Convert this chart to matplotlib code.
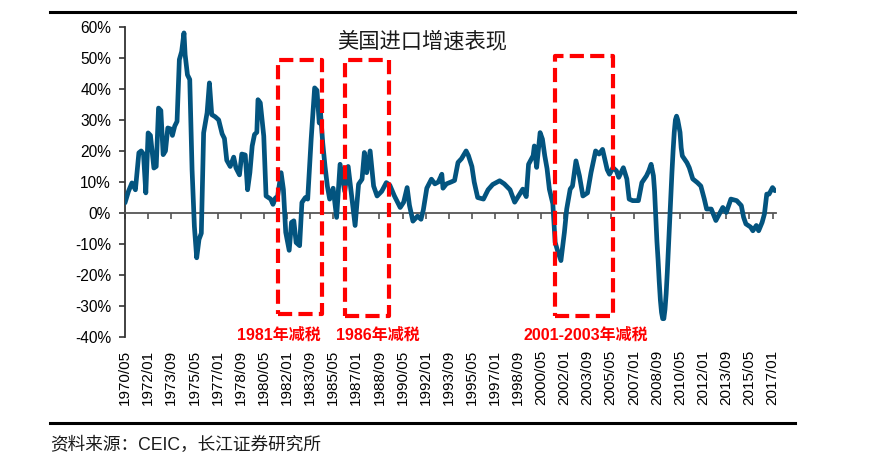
import matplotlib
matplotlib.use('Agg')
import matplotlib.pyplot as plt
from matplotlib.lines import Line2D
from matplotlib.patches import Rectangle

plt.rcParams['font.family'] = ['Liberation Sans', 'Noto Sans CJK SC', 'DejaVu Sans']

# US import growth (yoy)
dates = [
    '1970-05', '1970-08', '1970-11', '1971-02', '1971-05', '1971-07', '1971-09', '1971-11',
    '1972-01', '1972-03', '1972-06', '1972-08', '1972-10', '1972-12', '1973-02', '1973-04',
    '1973-06', '1973-09', '1973-10', '1973-12', '1974-02', '1974-04', '1974-06', '1974-08',
    '1974-09', '1974-11', '1975-01', '1975-03', '1975-05', '1975-07', '1975-09', '1975-11',
    '1976-01', '1976-04', '1976-06', '1976-08', '1976-11', '1977-02', '1977-05', '1977-07',
    '1977-09', '1977-12', '1978-03', '1978-05', '1978-08', '1978-10', '1979-01', '1979-03',
    '1979-05', '1979-07', '1979-09', '1979-11', '1979-12', '1980-02', '1980-05', '1980-07',
    '1980-11', '1981-01', '1981-03', '1981-05', '1981-08', '1981-10', '1981-12', '1982-03',
    '1982-05', '1982-07', '1982-09', '1982-12', '1983-02', '1983-05', '1983-07', '1983-10',
    '1984-01', '1984-03', '1984-05', '1984-06', '1984-08', '1984-10', '1984-12', '1985-02',
    '1985-05', '1985-08', '1985-11', '1986-03', '1986-06', '1986-09', '1986-12', '1987-03',
    '1987-06', '1987-08', '1987-10', '1988-01', '1988-04', '1988-07', '1988-11', '1989-03',
    '1989-06', '1989-10', '1990-03', '1990-06', '1990-09', '1990-11', '1991-02', '1991-06',
    '1991-09', '1991-11', '1992-02', '1992-06', '1992-09', '1992-12', '1993-03', '1993-04',
    '1993-07', '1993-11', '1994-02', '1994-05', '1994-08', '1994-12', '1995-02', '1995-05',
    '1995-07', '1995-10', '1996-03', '1996-07', '1996-11', '1997-05', '1997-09', '1998-02',
    '1998-06', '1998-09', '1999-01', '1999-04', '1999-06', '1999-10', '1999-11', '2000-01',
    '2000-04', '2000-06', '2000-08', '2000-10', '2000-12', '2001-03', '2001-05', '2001-07',
    '2001-10', '2002-01', '2002-03', '2002-06', '2002-08', '2002-11', '2003-02', '2003-05',
    '2003-09', '2003-12', '2004-04', '2004-07', '2004-10', '2005-02', '2005-04', '2005-07',
    '2005-10', '2005-12', '2006-04', '2006-07', '2006-09', '2006-12', '2007-05', '2007-08',
    '2007-12', '2008-02', '2008-04', '2008-06', '2008-07', '2008-08', '2008-09', '2008-10',
    '2008-11', '2008-12', '2009-01', '2009-02', '2009-03', '2009-04', '2009-05', '2009-06',
    '2009-07', '2009-08', '2009-09', '2009-10', '2009-11', '2009-12', '2010-01', '2010-02',
    '2010-03', '2010-04', '2010-05', '2010-06', '2010-07', '2010-11', '2011-01', '2011-04',
    '2011-08', '2011-11', '2012-02', '2012-04', '2012-08', '2012-12', '2013-03', '2013-06',
    '2013-09', '2014-01', '2014-06', '2014-10', '2014-12', '2015-02', '2015-06', '2015-08',
    '2015-11', '2016-01', '2016-04', '2016-06', '2016-08', '2016-10', '2017-01', '2017-03',
]
import_growth = [
    3.3, 7.0, 9.7, 7.5, 19.4, 20.0, 19.0, 6.5,
    25.8, 25.0, 14.5, 15.0, 33.8, 33.0, 18.8, 20.0,
    27.4, 27.0, 25.0, 28.0, 29.5, 49.4, 52.0, 58.0,
    51.0, 44.5, 43.0, 14.0, -4.3, -14.4, -8.5, -6.5,
    25.8, 32.3, 41.9, 31.7, 31.0, 30.0, 25.5, 24.0,
    17.0, 15.0, 18.0, 14.5, 12.3, 19.0, 18.7, 7.5,
    13.0, 21.6, 25.3, 26.0, 36.5, 35.5, 24.8, 5.5,
    4.5, 2.8, 4.8, 5.4, 13.0, 7.6, -6.2, -12.0,
    -3.0, -2.5, -9.5, -10.5, 3.4, 5.0, 4.5, 23.8,
    40.3, 39.5, 29.0, 32.7, 22.6, 15.0, 8.7, 4.5,
    8.0, -1.4, 15.7, 7.0, 15.0, 5.5, -4.0, 9.3,
    10.9, 19.5, 13.0, 20.0, 8.7, 5.5, 7.0, 9.8,
    9.0, 5.5, 1.8, 3.5, 8.2, 2.5, -2.6, -1.0,
    -2.0, 1.0, 8.0, 10.9, 9.4, 10.0, 12.5, 8.0,
    9.4, 10.0, 10.5, 16.3, 17.5, 20.0, 18.5, 15.0,
    10.0, 5.0, 4.5, 7.5, 9.2, 10.4, 9.4, 7.5,
    3.5, 5.3, 7.7, 5.3, 15.7, 18.5, 21.6, 14.7,
    25.9, 23.8, 18.5, 14.3, 7.7, 3.0, -9.4, -12.0,
    -15.3, -6.2, 1.3, 7.7, 8.7, 16.8, 12.0, 5.5,
    6.5, 13.0, 20.0, 19.0, 20.5, 14.0, 12.5, 14.6,
    13.6, 11.5, 14.6, 11.0, 4.5, 4.0, 4.0, 9.8,
    12.0, 13.6, 15.7, 12.0, 7.0, -1.0, -9.0, -15.0,
    -22.0, -28.0, -32.0, -34.0, -34.0, -31.0, -26.0, -19.0,
    -11.0, -3.0, 5.0, 13.0, 20.0, 26.0, 30.0, 31.2,
    30.0, 28.0, 26.0, 21.0, 18.4, 16.2, 14.6, 11.0,
    9.8, 8.7, 4.5, 1.3, 1.3, -2.4, -0.3, 1.8,
    0.2, 4.5, 4.0, 2.4, -1.4, -3.5, -4.5, -5.7,
    -4.0, -5.7, -3.0, -0.3, 6.1, 6.1, 8.2, 7.2,
]

tick_labels = [
    '1970/05', '1972/01', '1973/09', '1975/05', '1977/01', '1978/09', '1980/05',
    '1982/01', '1983/09', '1985/05', '1987/01', '1988/09', '1990/05', '1992/01',
    '1993/09', '1995/05', '1997/01', '1998/09', '2000/05', '2002/01', '2003/09',
    '2005/05', '2007/01', '2008/09', '2010/05', '2012/01', '2013/09', '2015/05',
    '2017/01',
]
y_ticks = [-40, -30, -20, -10, 0, 10, 20, 30, 40, 50, 60]

# tax cut periods (start, end) and their labels
cut_periods = [('1981-05', '1984-07'), ('1986-03', '1989-05'), ('2001-05', '2005-07')]
cut_labels = ['1981年减税', '1986年减税', '2001-2003年减税']


def month_index(s):
    y, m = s.replace('/', '-').split('-')
    return (int(y) - 1970) * 12 + int(m) - 5


x = [month_index(d) for d in dates]
tick_pos = [month_index(t) for t in tick_labels]

W, H = 881, 465
fig = plt.figure(figsize=(W / 100, H / 100), dpi=100)
ax = fig.add_axes([125 / W, 1 - 337.3 / H, (776 - 125) / W, (337.3 - 26.7) / H])

ax.plot(x, import_growth, color='#03547f', lw=3.4, solid_joinstyle='round',
        solid_capstyle='round', zorder=3)

ax.set_xlim(0, 563)
ax.set_ylim(-40, 60)
ax.set_yticks(y_ticks)
ax.set_yticklabels([f'{v}%' for v in y_ticks])
ax.tick_params(axis='y', length=4, width=1.2, pad=6, labelsize=11.2, color='#333333')

for s in ['top', 'right']:
    ax.spines[s].set_visible(False)
ax.spines['left'].set_color('#333333')
ax.spines['left'].set_linewidth(1.3)
ax.spines['bottom'].set_position(('data', 0))
ax.spines['bottom'].set_color('#555555')
ax.spines['bottom'].set_linewidth(1.3)
ax.set_xticks(tick_pos)
ax.tick_params(axis='x', length=4, width=1.2, color='#555555', labelbottom=False)

sec = ax.secondary_xaxis('bottom')
sec.set_xticks(tick_pos)
sec.set_xticklabels(tick_labels, rotation=90, va='top', ha='center')
sec.tick_params(length=0, pad=9, labelsize=11)
sec.spines['bottom'].set_visible(False)

# dashed red boxes around tax cut periods
box_y = [(-32.4, 49.3), (-33.0, 49.3), (-33.0, 50.6)]
for (a, b), (y0, y1) in zip(cut_periods, box_y):
    xa, xb = month_index(a), month_index(b)
    ax.add_patch(Rectangle((xa, y0), xb - xa, y1 - y0, fill=False, ec='#ff0000',
                           lw=3, ls=(0, (3.4, 1.5)), joinstyle='round', zorder=4))

label_x = [278.5, 378, 585.5]
for lx, txt in zip(label_x, cut_labels):
    fig.text(lx / W, 1 - 335.5 / H, txt, color='#ff0000', fontsize=11.5,
             fontweight='bold', ha='center', va='center')

fig.text(421.7 / W, 1 - 41 / H, '美国进口增速表现', fontsize=15.3, ha='center',
         va='center', color='#1a1a1a')

fig.add_artist(Line2D([50 / W, 795 / W], [1 - 12 / H] * 2, color='black', lw=2.2))
fig.add_artist(Line2D([50 / W, 795 / W], [1 - 423.3 / H] * 2, color='black', lw=2.2))
fig.text(50 / W, 1 - 445 / H, '资料来源：CEIC，长江证券研究所', fontsize=12.7,
         ha='left', va='center', color='#1a1a1a')

fig.savefig('out.png', dpi=100)
